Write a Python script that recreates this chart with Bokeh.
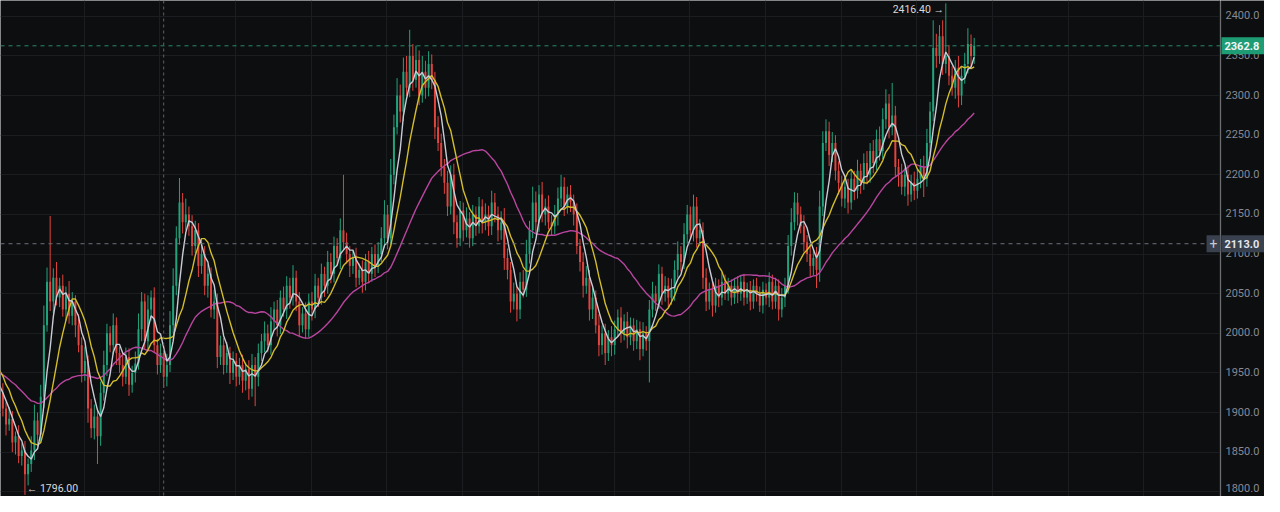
import numpy as np
import pandas as pd
from bokeh.plotting import figure
from bokeh.layouts import row
from bokeh.models import ColumnDataSource, Range1d, FixedTicker, Span, Label
from bokeh.embed import file_html
from bokeh.resources import INLINE
from bokeh.core.properties import value

# ---------------- data ----------------
# closes before the visible window (only feed the moving averages)
prior_closes = [1985, 1972, 1990, 1968, 1955, 1978, 1962, 1948, 1970, 1958,
                1920, 1935, 1912, 1928, 1942, 1918, 1930, 1945, 1922, 1938,
                1975, 1990, 1962, 1980, 1955, 1948, 1935, 1942, 1918, 1925]

closes = [1905, 1885, 1892, 1862, 1870, 1845, 1852, 1822, 1835, 1852,
          1890, 1872, 1920, 2010, 2065, 2040, 2070, 2045, 2060, 2030,
          2050, 2022, 2040, 2010, 1985, 1950, 1965, 1905, 1880, 1895,
          1870, 1925, 1960, 2000, 1985, 2010, 1975, 1960, 1945, 1970,
          1935, 1950, 1962, 2005, 2040, 1990, 2030, 2045, 1985, 1960,
          1975, 1945, 1960, 2010, 2060, 2120, 2165, 2140, 2150, 2135,
          2110, 2130, 2085, 2100, 2060, 2075, 2030, 2040, 1970, 1985,
          1960, 1975, 1950, 1965, 1945, 1960, 1940, 1955, 1930, 1960,
          1945, 1975, 1990, 2000, 1985, 2015, 2030, 2010, 2045, 2030,
          2060, 2045, 2070, 2040, 2010, 2025, 2005, 2040, 2030, 2060,
          2045, 2075, 2060, 2090, 2075, 2110, 2095, 2130, 2115, 2100,
          2085, 2095, 2070, 2080, 2065, 2090, 2075, 2100, 2085, 2100,
          2120, 2150, 2120, 2200, 2260, 2300, 2280, 2330, 2310, 2350,
          2320, 2345, 2300, 2330, 2310, 2340, 2320, 2260, 2240, 2210,
          2190, 2160, 2200, 2140, 2120, 2155, 2130, 2145, 2120, 2150,
          2135, 2160, 2140, 2150, 2135, 2165, 2150, 2130, 2140, 2095,
          2080, 2040, 2050, 2030, 2065, 2055, 2100, 2130, 2165, 2140,
          2175, 2150, 2160, 2140, 2135, 2150, 2170, 2185, 2160, 2175,
          2165, 2150, 2110, 2090, 2060, 2070, 2030, 2045, 2010, 1985,
          2000, 1975, 1995, 1985, 2005, 2020, 2000, 2015, 1995, 2010,
          1990, 2005, 1980, 2000, 1990, 2030, 2050, 2040, 2075, 2050,
          2060, 2045, 2055, 2080, 2100, 2090, 2125, 2150, 2130, 2160,
          2120, 2130, 2070, 2040, 2055, 2035, 2060, 2045, 2065, 2050,
          2060, 2045, 2060, 2050, 2065, 2045, 2055, 2040, 2060, 2050,
          2035, 2055, 2045, 2065, 2040, 2060, 2030, 2045, 2060, 2110,
          2140, 2165, 2150, 2135, 2115, 2100, 2085, 2095, 2080, 2160,
          2240, 2255, 2225, 2240, 2205, 2190, 2170, 2185, 2165, 2195,
          2180, 2205, 2190, 2215, 2200, 2230, 2215, 2245, 2230, 2270,
          2290, 2260, 2275, 2210, 2200, 2185, 2200, 2175, 2190, 2180,
          2195, 2210, 2195, 2240, 2280, 2360, 2350, 2375, 2340, 2350,
          2325, 2310, 2335, 2300, 2325, 2340, 2365, 2350, 2362.8]

up_wick = [12, 8, 15, 10, 6, 14, 9, 12, 7, 18,
           20, 10, 15, 25, 18, 83, 12, 20, 10, 14,
           9, 16, 12, 8, 14, 10, 18, 7, 12, 15,
           10, 14, 18, 12, 9, 15, 10, 8, 14, 12,
           11, 9, 15, 20, 12, 10, 18, 9, 13, 8,
           12, 10, 14, 18, 22, 15, 31, 12, 20, 10,
           14, 12, 9, 18, 10, 12, 8, 15, 10, 12,
           9, 14, 8, 12, 10, 9, 13, 8, 11, 14,
           10, 12, 9, 15, 11, 18, 10, 12, 9, 14,
           12, 10, 16, 9, 12, 8, 14, 10, 12, 15,
           10, 13, 9, 14, 11, 12, 10, 15, 70, 12,
           10, 9, 13, 8, 12, 10, 14, 9, 12, 15,
           14, 18, 12, 20, 16, 22, 14, 18, 20, 33,
           15, 18, 12, 20, 14, 16, 12, 10, 14, 12,
           10, 15, 12, 14, 9, 12, 10, 14, 8, 12,
           10, 12, 9, 14, 11, 15, 12, 10, 14, 18,
           12, 10, 14, 9, 12, 15, 18, 12, 20, 14,
           12, 16, 10, 14, 9, 12, 14, 15, 12, 10,
           12, 10, 14, 9, 12, 15, 10, 12, 9, 14,
           10, 12, 9, 14, 11, 10, 13, 9, 12, 10,
           9, 12, 10, 14, 9, 12, 15, 10, 12, 9,
           12, 10, 14, 12, 16, 10, 14, 12, 10, 15,
           12, 14, 10, 12, 9, 11, 10, 8, 12, 9,
           10, 8, 9, 12, 8, 10, 9, 11, 8, 10,
           9, 10, 8, 12, 9, 10, 8, 12, 10, 14,
           18, 13, 12, 10, 14, 9, 12, 10, 14, 20,
           15, 15, 12, 14, 10, 12, 9, 14, 10, 12,
           10, 14, 9, 12, 15, 10, 14, 12, 16, 14,
           18, 12, 41, 12, 10, 14, 9, 12, 10, 14,
           12, 10, 14, 18, 12, 35, 18, 14, 20, 66.4,
           14, 12, 10, 15, 12, 14, 20, 12, 10]

dn_wick = [10, 14, 8, 12, 15, 9, 12, 26, 14, 10,
           12, 15, 10, 14, 8, 12, 15, 10, 12, 9,
           14, 10, 12, 15, 9, 12, 10, 18, 12, 14,
           35, 12, 10, 14, 9, 12, 15, 10, 12, 9,
           14, 10, 12, 8, 15, 10, 12, 14, 9, 12,
           10, 14, 12, 9, 10, 12, 8, 14, 10, 12,
           12, 9, 14, 10, 12, 15, 10, 12, 14, 10,
           12, 10, 14, 9, 12, 10, 15, 12, 14, 10,
           37, 12, 10, 14, 9, 12, 10, 14, 11, 9,
           12, 14, 10, 12, 15, 9, 12, 10, 14, 11,
           12, 9, 14, 10, 12, 11, 9, 14, 10, 12,
           14, 10, 12, 9, 14, 11, 12, 10, 14, 9,
           10, 12, 14, 10, 12, 9, 14, 12, 10, 12,
           14, 10, 12, 9, 14, 11, 12, 15, 10, 12,
           14, 12, 10, 15, 12, 10, 14, 9, 12, 10,
           12, 9, 14, 10, 12, 11, 10, 14, 12, 15,
           12, 14, 10, 15, 12, 10, 9, 12, 10, 14,
           12, 10, 14, 9, 12, 10, 14, 11, 12, 9,
           12, 14, 10, 12, 15, 10, 14, 12, 10, 14,
           12, 15, 10, 14, 12, 10, 12, 9, 14, 10,
           12, 10, 14, 9, 12, 52, 10, 12, 9, 14,
           10, 12, 9, 14, 10, 12, 9, 12, 10, 14,
           12, 10, 14, 12, 10, 14, 9, 12, 10, 8,
           9, 10, 8, 12, 9, 10, 8, 11, 9, 10,
           8, 10, 9, 12, 10, 9, 14, 10, 12, 10,
           12, 10, 14, 9, 12, 10, 14, 12, 23, 15,
           12, 10, 14, 9, 12, 15, 10, 12, 14, 9,
           12, 10, 14, 9, 12, 10, 13, 9, 12, 10,
           12, 14, 10, 12, 15, 10, 12, 14, 9, 12,
           10, 12, 23, 10, 14, 12, 15, 10, 14, 12,
           12, 10, 14, 15, 12, 10, 12, 14, 10]

price_ticks = [1800, 1850, 1900, 1950, 2000, 2050, 2100, 2150, 2200, 2250, 2300, 2350, 2400]
ma_periods = [5, 10, 30]
last_price = 2362.8
cross_price = 2113.0
cross_index = 51
grid_x_ticks = [25.8 + 24 * k for k in range(16)]

# ---------------- derived ----------------
n_prior = len(prior_closes)
all_close = np.array(prior_closes + closes, dtype=float)
idx_all = np.arange(len(all_close)) - n_prior
s = pd.Series(all_close)
ma = {n: s.rolling(n).mean().to_numpy() for n in ma_periods}

close_v = np.array(closes, dtype=float)
open_v = all_close[n_prior - 1:-1]
idx = np.arange(len(closes))
top = np.maximum(open_v, close_v)
bot = np.minimum(open_v, close_v)
high = top + np.array(up_wick)
low = bot - np.array(dn_wick)
bar_top = np.where(top - bot < 1.2, bot + 1.2, top)

UP = "#22a37c"
DOWN = "#e2443e"
colors = [UP if c >= o else DOWN for o, c in zip(open_v, close_v)]
src = ColumnDataSource(dict(x=idx, top=bar_top, bottom=bot, high=high, low=low, color=colors))

BG = "#0d0e10"
GRID = "#1b1d21"
H = 496
AXW = 44
yr = Range1d(1794, 2420)

# ---------------- main pane ----------------
p = figure(width=1264 - AXW, height=H, x_range=Range1d(-0.75, 386.1), y_range=yr,
           output_backend="svg", toolbar_location=None,
           background_fill_color=BG, border_fill_color=BG, outline_line_color=None, min_border=0)
p.xaxis.visible = False
p.yaxis.visible = False
p.ygrid.ticker = FixedTicker(ticks=price_ticks)
p.ygrid.grid_line_color = GRID
p.xgrid.ticker = FixedTicker(ticks=grid_x_ticks)
p.xgrid.grid_line_color = GRID

# candles
p.segment(x0="x", y0="low", x1="x", y1="high", line_color="color", line_width=1, source=src)
p.vbar(x="x", width=0.62, top="top", bottom="bottom", fill_color="color", line_color=None, source=src)

# moving averages
p.line(idx_all, ma[30], line_color="#b8459f", line_width=1.4)
p.line(idx_all, ma[10], line_color="#d3bd2b", line_width=1.4)
p.line(idx_all, ma[5], line_color="#c9ccd6", line_width=1.4)

# last price / crosshair lines
p.add_layout(Span(location=last_price, dimension="width", line_color="#2c8a6a", line_dash="4 4", line_width=1))
p.add_layout(Span(location=cross_price, dimension="width", line_color="#6c7078", line_dash="4 4", line_width=1))
p.add_layout(Span(location=cross_index, dimension="height", line_color="#5e6269", line_dash="3 3", line_width=1))

# max / min markers
i_hi = int(np.argmax(high))
i_lo = int(np.argmin(low))
p.text(x=[i_hi - 0.6], y=[high[i_hi]], text=[f"{high[i_hi]:.2f} \u2192"], text_align="right",
       text_baseline="top", text_color="#d8dade", text_font_size="10.5px", text_font=value("Roboto"))
p.text(x=[i_lo + 0.6], y=[low[i_lo]], text=[f"\u2190 {low[i_lo]:.2f}"], text_align="left",
       text_baseline="bottom", text_color="#d8dade", text_font_size="10.5px", text_font=value("Roboto"))

# crosshair "+" button at the pane edge
p.add_layout(Label(x=386.1, y=cross_price, text="+", text_baseline="middle", text_align="right",
                   text_color="#c4c8cf", text_font="Roboto", text_font_size="14px",
                   background_fill_color="#3a414e", x_offset=0, padding=3))

# ---------------- price scale ----------------
pa = figure(width=AXW, height=H, x_range=Range1d(0, AXW), y_range=yr,
            output_backend="svg", toolbar_location=None,
            background_fill_color=BG, border_fill_color=BG, outline_line_color=None, min_border=0)
pa.xaxis.visible = False
pa.yaxis.visible = False
pa.grid.visible = False
pa.add_layout(Span(location=0.5, dimension="height", line_color="#25272c", line_width=1))
label_offsets = [-4 if t == min(price_ticks) else -1 for t in price_ticks]
pa.text(x=[5] * len(price_ticks), y=price_ticks, text=[f"{t:.1f}" for t in price_ticks],
        text_baseline="middle", text_color="#858a94", text_font_size="11px", text_font=value("Roboto"),
        y_offset=label_offsets)

badge_prices = [last_price, cross_price]
badge_colors = ["#1e9d74", "#3a414e"]
badge_text_colors = ["#f4f6f8", "#e3e6ea"]
pa.rect(x=[AXW / 2] * 2, y=badge_prices, width=AXW, height=17, height_units="screen",
        fill_color=badge_colors, line_color=None)
pa.text(x=[4] * 2, y=badge_prices, text=[f"{v:.1f}" for v in badge_prices], text_baseline="middle",
        text_color=badge_text_colors, text_font_size="11px", text_font_style="bold",
        text_font=value("Roboto"))

layout = row(p, pa)
open("out.html", "w").write(file_html(layout, INLINE))
